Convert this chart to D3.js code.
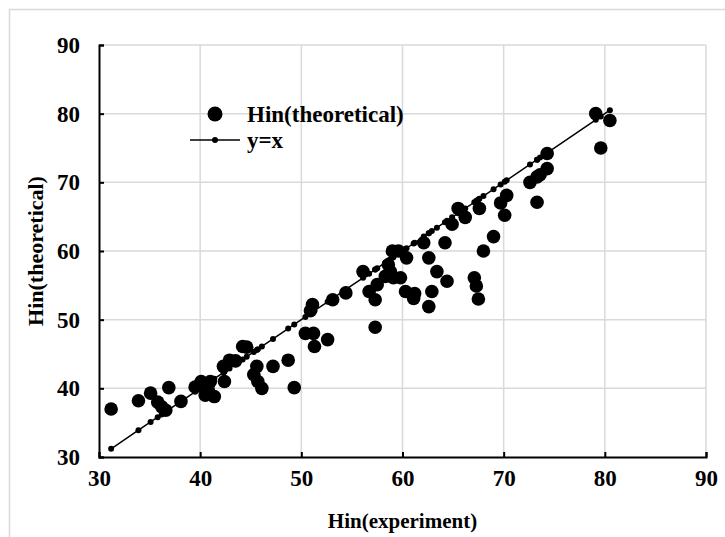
<!DOCTYPE html>
<html>
<head>
<meta charset="utf-8">
<script src="https://cdn.jsdelivr.net/npm/d3@7"></script>
<style>
  body { margin: 0; background: #fff; }
  text { font-family: "Liberation Serif", "Times New Roman", serif; font-weight: bold; fill: #000; }
</style>
</head>
<body>
<svg id="chart" width="725" height="537"></svg>
<script>
// Hin(experiment) vs Hin(theoretical)
var expX = [31.2, 33.9, 35.1, 35.8, 36.2, 36.6, 36.9, 38.1, 39.5, 40.1,
            41.0, 40.5, 41.4, 40.8, 42.4, 42.3, 42.9, 43.5, 44.2, 44.6,
            45.6, 45.3, 45.7, 46.1, 47.2, 48.7, 49.3, 50.4, 51.2, 52.6,
            51.3, 51.1, 50.9, 53.1, 54.4, 56.1, 56.7, 57.5, 57.3, 57.3,
            59.0, 59.6, 58.6, 58.8, 59.1, 59.8, 60.4, 60.3, 61.2, 61.1,
            62.1, 62.6, 63.4, 64.4, 62.9, 62.6, 64.2, 67.1, 67.3, 67.5,
            68.0, 69.0, 64.9, 65.5, 66.2, 67.6, 69.7, 70.1, 70.3, 72.6,
            73.3, 73.6, 74.3, 74.3, 73.3, 79.1, 80.5, 79.6, 58.3];
var theoY = [37.0, 38.2, 39.3, 38.0, 37.3, 36.8, 40.1, 38.1, 40.2, 41.0,
             41.0, 39.0, 38.8, 39.8, 41.0, 43.2, 44.1, 44.0, 46.1, 46.0,
             43.2, 42.0, 41.0, 40.0, 43.2, 44.1, 40.1, 48.0, 48.0, 47.1,
             46.1, 52.2, 51.3, 52.9, 53.9, 57.0, 54.1, 55.1, 52.9, 48.9,
             60.0, 60.0, 58.0, 57.0, 56.1, 56.1, 59.0, 54.1, 53.8, 53.1,
             61.2, 59.0, 57.0, 55.6, 54.1, 51.9, 61.2, 56.1, 54.9, 53.0,
             60.0, 62.1, 63.9, 66.2, 64.9, 66.2, 67.0, 65.2, 68.1, 70.0,
             70.8, 71.1, 72.0, 74.2, 67.1, 80.0, 79.0, 75.0, 56.3];
var tickVals = [30, 40, 50, 60, 70, 80, 90];
var seriesNames = ["Hin(theoretical)", "y=x"];

var svg = d3.select("#chart"),
    margin = {top: 45, right: 19, bottom: 80, left: 99},
    width = +svg.attr("width") - margin.left - margin.right,
    height = +svg.attr("height") - margin.top - margin.bottom;

// outer frame
svg.append("rect")
    .attr("x", 9.5).attr("y", 9.5)
    .attr("width", 730).attr("height", 540)
    .attr("fill", "none").attr("stroke", "#d9d9d9").attr("stroke-width", 1.5);

var g = svg.append("g").attr("transform", "translate(" + margin.left + "," + margin.top + ")");

var x = d3.scaleLinear().domain([30, 90]).range([0, width]),
    y = d3.scaleLinear().domain([30, 90]).range([height, 0]);

// grid
g.append("g").selectAll("line")
  .data(tickVals.slice(1))
  .enter().append("line")
    .attr("x1", function(d) { return x(d); }).attr("x2", function(d) { return x(d); })
    .attr("y1", 0).attr("y2", height)
    .attr("stroke", "#d9d9d9").attr("stroke-width", 1.5);
g.append("g").selectAll("line")
  .data(tickVals.slice(1))
  .enter().append("line")
    .attr("y1", function(d) { return y(d); }).attr("y2", function(d) { return y(d); })
    .attr("x1", 0).attr("x2", width)
    .attr("stroke", "#d9d9d9").attr("stroke-width", 1.5);

// axes, ticks pointing inward
var xAxis = g.append("g")
    .attr("transform", "translate(0," + height + ")")
    .call(d3.axisBottom(x).tickValues(tickVals).tickSize(-5).tickPadding(13).tickFormat(d3.format("d")));
var yAxis = g.append("g")
    .call(d3.axisLeft(y).tickValues(tickVals).tickSize(-5).tickPadding(19).tickFormat(d3.format("d")));
[xAxis, yAxis].forEach(function(a) {
  a.attr("font-size", 23).attr("font-family", "Liberation Serif").attr("font-weight", "bold");
  a.select(".domain").attr("stroke", "#000").attr("stroke-width", 2);
  a.selectAll(".tick line").attr("stroke", "#000").attr("stroke-width", 2);
  a.selectAll(".tick text").style("font-size", "23px");
});
xAxis.selectAll(".tick text").attr("dy", "0.71em");

// y=x line with small markers
var linePts = expX.slice().sort(d3.ascending);
var line = d3.line()
    .x(function(d) { return x(d); })
    .y(function(d) { return y(d); });
g.append("path")
    .datum(linePts)
    .attr("d", line)
    .attr("fill", "none").attr("stroke", "#000").attr("stroke-width", 1.5);
g.append("g").selectAll("circle")
  .data(linePts)
  .enter().append("circle")
    .attr("cx", function(d) { return x(d); })
    .attr("cy", function(d) { return y(d); })
    .attr("r", 3).attr("fill", "#000");

// scatter
g.append("g").selectAll("circle")
  .data(expX)
  .enter().append("circle")
    .attr("cx", function(d) { return x(d); })
    .attr("cy", function(d, i) { return y(theoY[i]); })
    .attr("r", 6.8).attr("fill", "#000");

// legend
var leg = svg.append("g");
leg.append("circle").attr("cx", 215).attr("cy", 114).attr("r", 7.5).attr("fill", "#000");
leg.append("text").attr("x", 247).attr("y", 114).attr("dy", "0.35em")
    .style("font-size", "23px").text(seriesNames[0]);
leg.append("line").attr("x1", 190).attr("x2", 240).attr("y1", 140).attr("y2", 140)
    .attr("stroke", "#000").attr("stroke-width", 1.5);
leg.append("circle").attr("cx", 215).attr("cy", 140).attr("r", 3).attr("fill", "#000");
leg.append("text").attr("x", 247).attr("y", 140).attr("dy", "0.35em")
    .style("font-size", "23px").text(seriesNames[1]);

// axis titles
svg.append("text")
    .attr("x", margin.left + width / 2).attr("y", 521).attr("dy", "0.35em")
    .attr("text-anchor", "middle").style("font-size", "21px")
    .text("Hin(experiment)");
svg.append("text")
    .attr("transform", "translate(35," + (margin.top + height / 2) + ") rotate(-90)")
    .attr("dy", "0.35em")
    .attr("text-anchor", "middle").style("font-size", "22px")
    .text("Hin(theoretical)");
</script>
</body>
</html>
